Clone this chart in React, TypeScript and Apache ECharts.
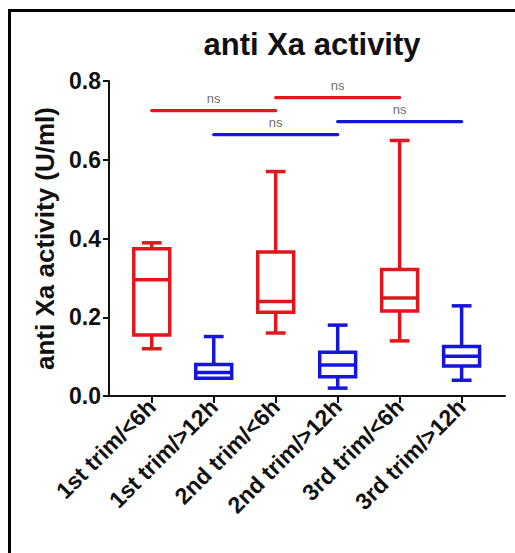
import React, { useEffect, useRef } from "react";
import * as echarts from "echarts";

const categories = [
  "1st trim/<6h",
  "1st trim/>12h",
  "2nd trim/<6h",
  "2nd trim/>12h",
  "3rd trim/<6h",
  "3rd trim/>12h",
];
// [min, Q1, median, Q3, max]
const boxMin = [0.12, 0.045, 0.16, 0.02, 0.14, 0.04];
const boxQ1 = [0.155, 0.045, 0.213, 0.049, 0.216, 0.076];
const boxMedian = [0.295, 0.06, 0.24, 0.079, 0.249, 0.101];
const boxQ3 = [0.374, 0.08, 0.366, 0.111, 0.321, 0.126];
const boxMax = [0.389, 0.151, 0.57, 0.18, 0.649, 0.229];
const groupOf = ["<6h", ">12h", "<6h", ">12h", "<6h", ">12h"];

// significance brackets: [from category, to category, y level]
const brackets = [
  { from: 0, to: 2, y: 0.725, group: "<6h", label: "ns" },
  { from: 2, to: 4, y: 0.758, group: "<6h", label: "ns" },
  { from: 1, to: 3, y: 0.664, group: ">12h", label: "ns" },
  { from: 3, to: 5, y: 0.697, group: ">12h", label: "ns" },
];

const RED = "#e2161d";
const BLUE = "#1515dc";
const FONT = "Liberation Sans, Arial, Helvetica, sans-serif";

export default function App() {
  const ref = useRef<HTMLDivElement>(null);

  useEffect(() => {
    if (!ref.current) return;
    const chart = echarts.init(ref.current, null, { renderer: "svg" });
    const colorOf = (g: string) => (g === "<6h" ? RED : BLUE);
    const boxData = categories.map((_, i) => [
      i,
      boxMin[i],
      boxQ1[i],
      boxMedian[i],
      boxQ3[i],
      boxMax[i],
    ]);
    const BOX_W = 0.58;
    const CAP_W = 0.32;

    const bracketSeries: any[] = brackets.map((b) => ({
      type: "line",
      data: [
        [b.from, b.y],
        [b.to, b.y],
      ],
      symbol: "none",
      lineStyle: { color: colorOf(b.group), width: 3.3, cap: "round" },
      silent: true,
      z: 3,
    }));

    const option: any = {
      animation: false,
      backgroundColor: "#ffffff",
      title: {
        text: "anti Xa activity",
        left: 307,
        top: 24,
        textAlign: "center",
        textStyle: {
          fontFamily: FONT,
          fontSize: 31,
          fontWeight: "bold",
          color: "#111",
        },
      },
      graphic: [
        {
          type: "rect",
          shape: { x: 9.5, y: 10.5, width: 540, height: 580 },
          style: { fill: "none", stroke: "#000", lineWidth: 3 },
          silent: true,
        },
      ],
      grid: { left: 109, top: 81, width: 396, height: 315 },
      xAxis: {
        type: "value",
        min: -0.69,
        max: 5.7,
        splitLine: { show: false },
        axisLine: { show: true, onZero: false, lineStyle: { color: "#111", width: 2 } },
        axisTick: {
          show: true,
          customValues: [0, 1, 2, 3, 4, 5],
          length: 7,
          lineStyle: { color: "#111", width: 2 },
        },
        axisLabel: {
          customValues: [0, 1, 2, 3, 4, 5],
          formatter: (v: number) => categories[Math.round(v)] ?? "",
          rotate: 45,
          margin: 7,
          fontFamily: FONT,
          fontSize: 23,
          fontWeight: "bold",
          color: "#111",
        },
      },
      yAxis: {
        type: "value",
        min: 0,
        max: 0.8,
        interval: 0.2,
        splitLine: { show: false },
        axisLine: { show: true, onZero: false, lineStyle: { color: "#111", width: 2 } },
        axisTick: { show: true, length: 6, lineStyle: { color: "#111", width: 2 } },
        axisLabel: {
          formatter: (v: number) => v.toFixed(1),
          margin: 8,
          fontFamily: FONT,
          fontSize: 23,
          fontWeight: "bold",
          color: "#111",
        },
        name: "anti Xa activity (U/ml)",
        nameLocation: "middle",
        nameRotate: 90,
        nameGap: 49,
        nameTextStyle: {
          fontFamily: FONT,
          fontSize: 26,
          fontWeight: "bold",
          color: "#111",
        },
      },
      series: [
        {
          type: "custom",
          data: boxData,
          encode: { x: 0, y: [1, 2, 3, 4, 5] },
          z: 4,
          renderItem: (params: any, api: any) => {
            const x = api.value(0);
            const lo = api.coord([x, api.value(1)]);
            const q1 = api.coord([x, api.value(2)]);
            const md = api.coord([x, api.value(3)]);
            const q3 = api.coord([x, api.value(4)]);
            const hi = api.coord([x, api.value(5)]);
            const bw = api.size([BOX_W, 0])[0];
            const cw = api.size([CAP_W, 0])[0];
            const color = colorOf(groupOf[params.dataIndex]);
            const ls = { stroke: color, lineWidth: 3.5, fill: "none" };
            const cx = q3[0];
            return {
              type: "group",
              children: [
                {
                  type: "line",
                  shape: { x1: cx, y1: q3[1], x2: cx, y2: hi[1] },
                  style: ls,
                },
                {
                  type: "line",
                  shape: { x1: cx, y1: q1[1], x2: cx, y2: lo[1] },
                  style: ls,
                },
                {
                  type: "line",
                  shape: { x1: cx - cw / 2, y1: hi[1], x2: cx + cw / 2, y2: hi[1] },
                  style: ls,
                },
                {
                  type: "line",
                  shape: { x1: cx - cw / 2, y1: lo[1], x2: cx + cw / 2, y2: lo[1] },
                  style: ls,
                },
                {
                  type: "rect",
                  shape: { x: cx - bw / 2, y: q3[1], width: bw, height: q1[1] - q3[1] },
                  style: { ...ls, fill: "#ffffff" },
                },
                {
                  type: "line",
                  shape: { x1: cx - bw / 2, y1: md[1], x2: cx + bw / 2, y2: md[1] },
                  style: ls,
                },
              ],
            };
          },
        },
        ...bracketSeries,
        {
          type: "scatter",
          data: brackets.map((b) => [(b.from + b.to) / 2, b.y]),
          symbolSize: 0,
          silent: true,
          label: {
            show: true,
            position: "top",
            distance: 6,
            formatter: (p: any) => brackets[p.dataIndex].label,
            fontFamily: FONT,
            fontSize: 13,
            color: "#444",
          },
          z: 5,
        },
      ],
    };
    chart.setOption(option);
    return () => chart.dispose();
  }, []);

  return (
    <div
      ref={ref}
      style={{ position: "absolute", left: 0, top: 0, width: 515, height: 553 }}
    />
  );
}
